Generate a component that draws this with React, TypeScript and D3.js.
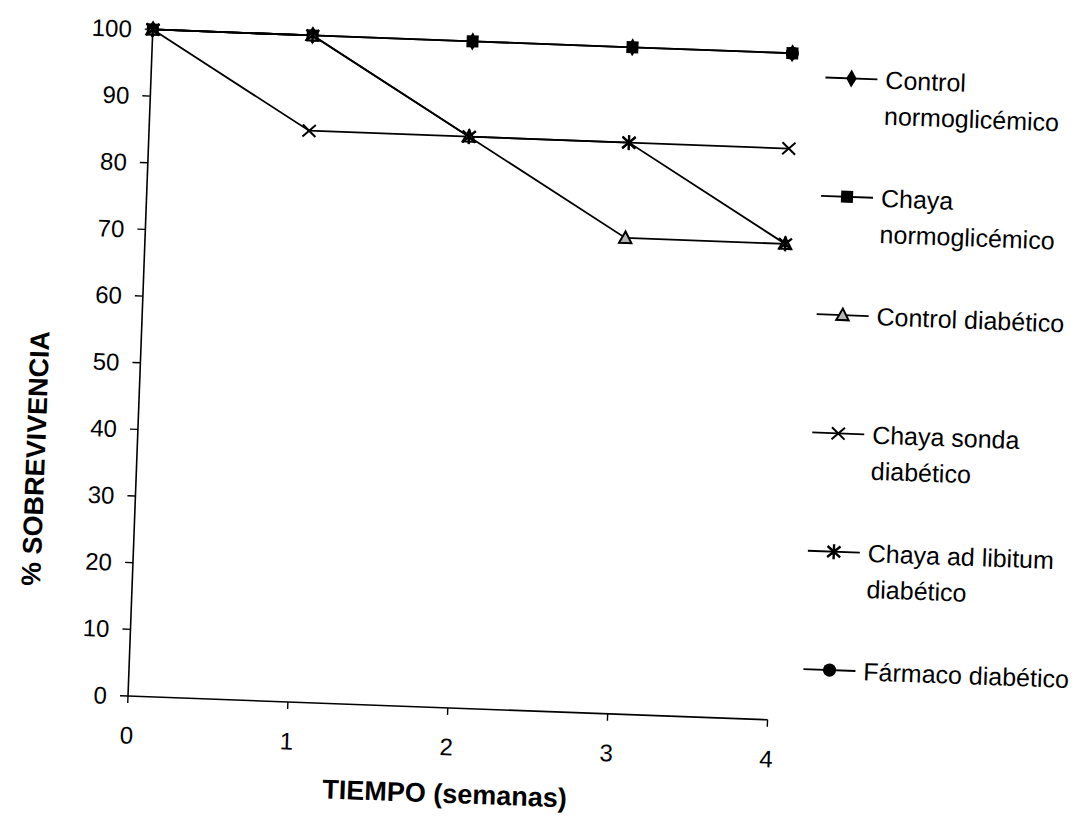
import React from "react";
import * as d3 from "d3";

// ---- data ----
const weeks = [0, 1, 2, 3, 4];
const xTickValues = [0, 1, 2, 3, 4];
const yTickValues = [0, 10, 20, 30, 40, 50, 60, 70, 80, 90, 100];

const controlNormo: (number | null)[] = [100, 100, 100, 100, 100];
const chayaNormo: (number | null)[] = [100, 100, 100, 100, 100];
const controlDiab: (number | null)[] = [100, 100, 85.7, 71.4, 71.4];
const chayaSonda: (number | null)[] = [100, 85.7, 85.7, 85.7, 85.7];
const chayaAdLib: (number | null)[] = [100, 100, 85.7, 85.7, 71.4];
const farmacoDiab: (number | null)[] = [null, null, null, null, 100];

const seriesLabels = [
  ["Control", "normoglicémico"],
  ["Chaya", "normoglicémico"],
  ["Control diabético"],
  ["Chaya sonda", "diabético"],
  ["Chaya ad libitum", "diabético"],
  ["Fármaco diabético"],
];
const seriesMarkers = ["diamond", "square", "triangle", "x", "asterisk", "circle"];
const seriesValues = [controlNormo, chayaNormo, controlDiab, chayaSonda, chayaAdLib, farmacoDiab];

const xTitle = "TIEMPO (semanas)";
const yTitle = "% SOBREVIVENCIA";

const FONT = "'Liberation Sans', Arial, Helvetica, sans-serif";

function Marker({ kind, cx, cy }: { kind: string; cx: number; cy: number }) {
  const t = `translate(${cx},${cy})`;
  switch (kind) {
    case "diamond":
      return <path transform={t} d={d3.symbol(d3.symbolDiamond, 95)() as string} fill="#000" />;
    case "square":
      return <rect x={cx - 6} y={cy - 6} width={12} height={12} fill="#000" />;
    case "triangle":
      return (
        <path transform={t} d="M0,-6.5L6.2,5L-6.2,5Z" fill="#b5b5b5" stroke="#000" strokeWidth={2} />
      );
    case "x":
      return (
        <path transform={t} d="M-6.5,-6L6.5,6M-6.5,6L6.5,-6" stroke="#000" strokeWidth={2} fill="none" />
      );
    case "asterisk":
      return (
        <path
          transform={t}
          d="M-6.5,-5.5L6.5,5.5M-6.5,5.5L6.5,-5.5M0,-7.5L0,7.5"
          stroke="#000"
          strokeWidth={2.4}
          fill="none"
        />
      );
    case "circle":
      return <circle cx={cx} cy={cy} r={6.6} fill="#000" />;
    default:
      return null;
  }
}

export default function App() {
  const x = d3.scaleLinear().domain([0, 4]).range([128, 768]);
  const y = d3.scaleLinear().domain([0, 100]).range([696, 29]);

  const line = d3
    .line<number | null>()
    .defined((d) => d != null)
    .x((_, i) => x(weeks[i]))
    .y((d) => y(d as number));

  const legendX = 828;
  const legendY0 = 52;
  const legendStep = 118.4;

  return (
    <svg
      width={1087}
      height={817}
      style={{ position: "absolute", left: 0, top: 0, background: "#fff" }}
      fontFamily={FONT}
    >
      <rect width={1087} height={817} fill="#fff" />
      <g transform="rotate(2.13 128 696)">
        {/* axes */}
        <line x1={x(0)} y1={y(0)} x2={x(4)} y2={y(0)} stroke="#000" strokeWidth={1.6} />
        <line x1={x(0)} y1={y(0)} x2={x(0)} y2={y(100)} stroke="#000" strokeWidth={1.6} />
        {yTickValues.map((v) => (
          <g key={"yt" + v}>
            <line x1={x(0) - 8} x2={x(0)} y1={y(v)} y2={y(v)} stroke="#000" strokeWidth={1.4} />
            <text
              x={x(0) - 21}
              y={y(v)}
              textAnchor="end"
              dominantBaseline="central"
              fontSize={24}
              fill="#000"
            >
              {v}
            </text>
          </g>
        ))}
        {xTickValues.map((v) => (
          <g key={"xt" + v}>
            <line x1={x(v)} x2={x(v)} y1={y(0)} y2={y(0) + 7} stroke="#000" strokeWidth={1.4} />
            <text x={x(v)} y={y(0) + 39} textAnchor="middle" dominantBaseline="central" fontSize={24} fill="#000">
              {v}
            </text>
          </g>
        ))}
        {/* titles */}
        <text x={448} y={782} textAnchor="middle" dominantBaseline="central" fontSize={27} fontWeight="bold" fill="#000">
          {xTitle}
        </text>
        <text
          transform={`translate(27,462) rotate(-90)`}
          textAnchor="middle"
          dominantBaseline="central"
          fontSize={27}
          fontWeight="bold"
          fill="#000"
        >
          {yTitle}
        </text>

        {/* series */}
        {seriesValues.map((vals, si) => (
          <path key={"l" + si} d={line(vals) as string} fill="none" stroke="#000" strokeWidth={1.8} />
        ))}
        {seriesValues.map((vals, si) =>
          vals.map((v, i) =>
            v == null ? null : (
              <Marker key={`m${si}-${i}`} kind={seriesMarkers[si]} cx={x(weeks[i])} cy={y(v)} />
            )
          )
        )}

        {/* legend */}
        {seriesLabels.map((lines, i) => {
          const cy = legendY0 + i * legendStep;
          return (
            <g key={"lg" + i}>
              <line x1={legendX - 26} x2={legendX + 26} y1={cy} y2={cy} stroke="#000" strokeWidth={1.8} />
              <Marker kind={seriesMarkers[i]} cx={legendX} cy={cy} />
              {lines.map((t, j) => (
                <text
                  key={j}
                  x={862}
                  y={cy + j * 36}
                  dominantBaseline="central"
                  fontSize={25}
                  fill="#000"
                >
                  {t}
                </text>
              ))}
            </g>
          );
        })}
      </g>
    </svg>
  );
}
